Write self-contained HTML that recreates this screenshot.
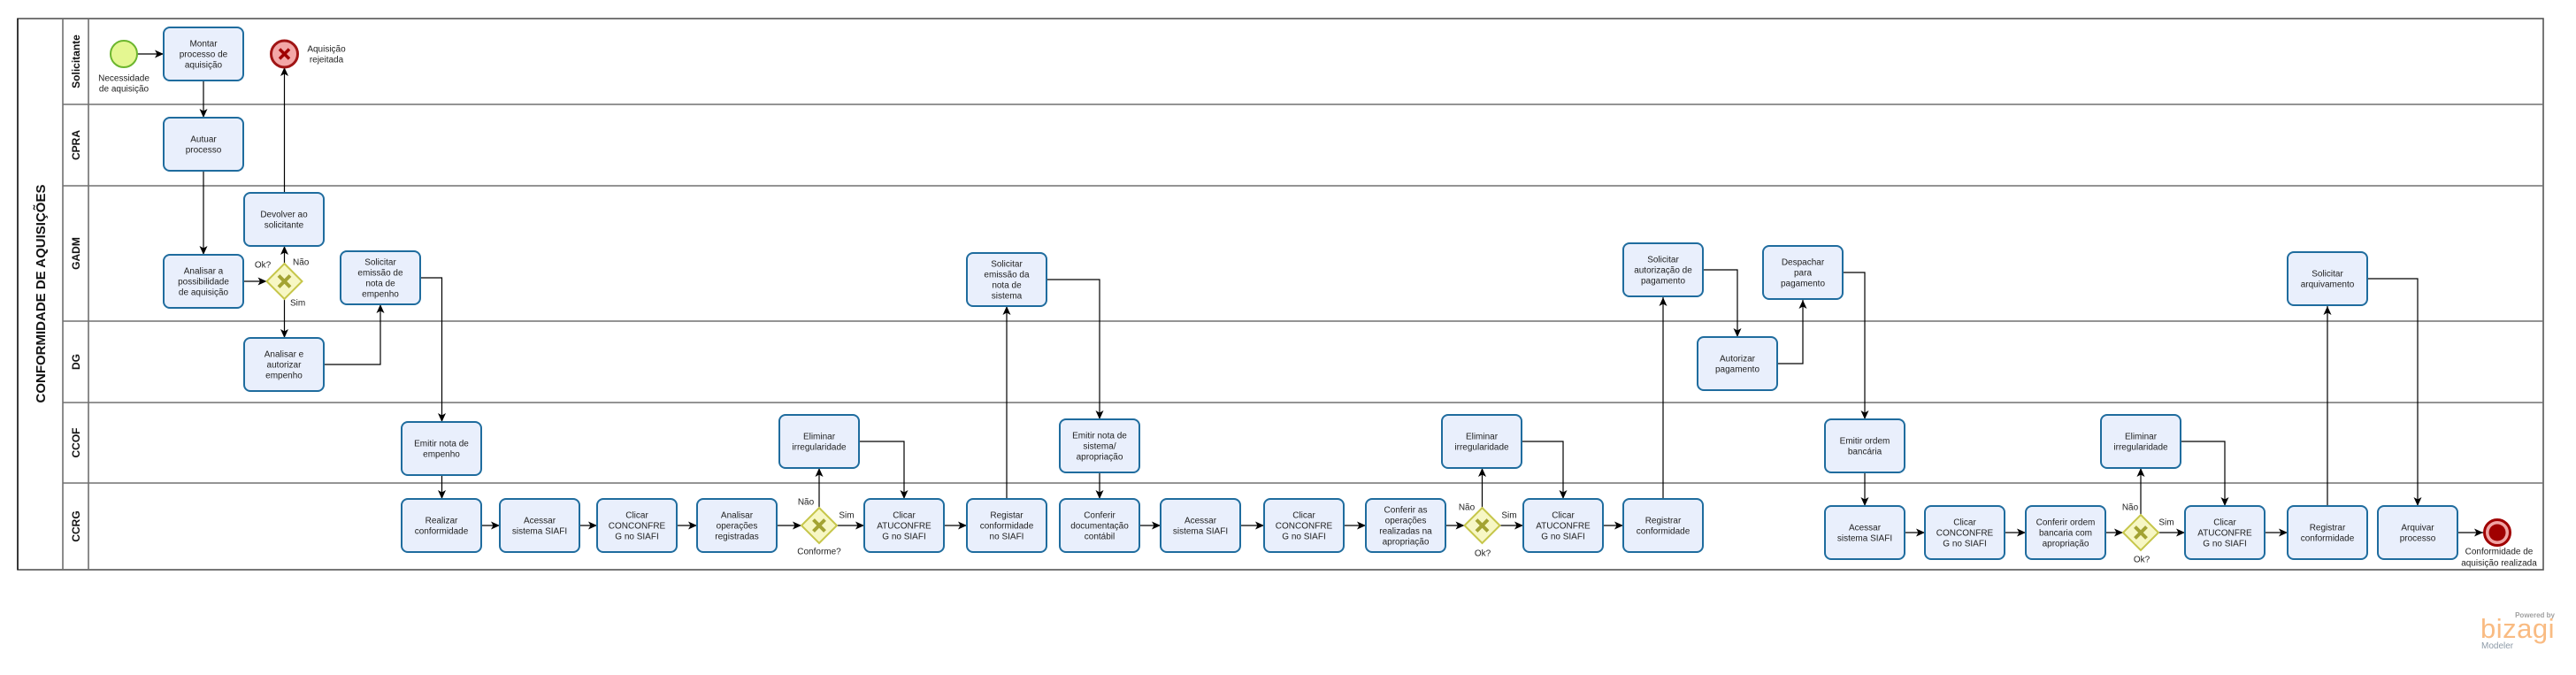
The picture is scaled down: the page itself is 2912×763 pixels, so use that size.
<!DOCTYPE html>
<html><head><meta charset="utf-8"><style>
html,body{margin:0;padding:0;background:#fff;}
svg{display:block;}
text{font-family:"Liberation Sans",Arial,sans-serif;}
.t{font-size:10px;fill:#222;text-anchor:middle;}
.l{font-size:10px;fill:#222;}
.task{fill:#e9effc;stroke:#1f6c9e;stroke-width:2;}
.c{fill:none;stroke:#000;stroke-width:1.2;marker-end:url(#ar);}
.lane{stroke:#707070;stroke-width:1.6;fill:none;}
.lh{font-size:12px;font-weight:bold;fill:#111;text-anchor:middle;}
.gw{fill:#f7f7c4;stroke:#c6c64a;stroke-width:2;}
.gx{stroke:#a3a333;stroke-width:4;}
</style></head><body>
<svg width="2912" height="763" viewBox="0 0 2912 763" xmlns="http://www.w3.org/2000/svg">
<defs>
<marker id="ar" markerUnits="userSpaceOnUse" markerWidth="11" markerHeight="10" refX="10" refY="4.5" orient="auto">
<path d="M0,0 L10,4.5 L0,9 L2.5,4.5 Z" fill="#000"/>
</marker>
</defs>
<rect x="0" y="0" width="2912" height="763" fill="#fff"/>

<!-- Pool -->
<rect x="20" y="21" width="2855" height="623" fill="none" stroke="#555" stroke-width="1.6"/>
<line x1="20" y1="21" x2="20" y2="644" stroke="#111" stroke-width="1.4"/>
<line x1="71" y1="21" x2="71" y2="644" class="lane"/>
<line x1="100" y1="21" x2="100" y2="644" class="lane"/>
<line x1="71" y1="118" x2="2875" y2="118" class="lane"/>
<line x1="71" y1="210" x2="2875" y2="210" class="lane"/>
<line x1="71" y1="363" x2="2875" y2="363" class="lane"/>
<line x1="71" y1="455" x2="2875" y2="455" class="lane"/>
<line x1="71" y1="546" x2="2875" y2="546" class="lane"/>

<text transform="translate(51,332) rotate(-90)" style="font-size:15px;font-weight:bold;fill:#111;text-anchor:middle;">CONFORMIDADE DE AQUISIÇÕES</text>
<text class="lh" transform="translate(90,69.5) rotate(-90)">Solicitante</text>
<text class="lh" transform="translate(90,164) rotate(-90)">CPRA</text>
<text class="lh" transform="translate(90,286.5) rotate(-90)">GADM</text>
<text class="lh" transform="translate(90,409) rotate(-90)">DG</text>
<text class="lh" transform="translate(90,500.5) rotate(-90)">CCOF</text>
<text class="lh" transform="translate(90,595) rotate(-90)">CCRG</text>

<!-- Connectors -->
<path class="c" d="M155,61 H185"/>
<path class="c" d="M230,91 V133"/>
<path class="c" d="M230,193 V288"/>
<path class="c" d="M275,318 H301.5"/>
<path class="c" d="M321.5,298 V278"/>
<path class="c" d="M321.5,218 V76"/>
<path class="c" d="M321.5,338 V382"/>
<path class="c" d="M366,412 H430 V344"/>
<path class="c" d="M475,314 H499.5 V477"/>
<path class="c" d="M499.5,537 V564"/>
<path class="c" d="M544,594 H565"/>
<path class="c" d="M655,594 H675"/>
<path class="c" d="M765,594 H788"/>
<path class="c" d="M878,594 H906"/>
<path class="c" d="M926,574 V529"/>
<path class="c" d="M971,499 H1022 V564"/>
<path class="c" d="M946,594 H977"/>
<path class="c" d="M1067,594 H1093"/>
<path class="c" d="M1138,564 V346"/>
<path class="c" d="M1183,316 H1243 V474"/>
<path class="c" d="M1243,534 V564"/>
<path class="c" d="M1288,594 H1312"/>
<path class="c" d="M1402,594 H1429"/>
<path class="c" d="M1519,594 H1544"/>
<path class="c" d="M1634,594 H1655.5"/>
<path class="c" d="M1675.5,574 V529"/>
<path class="c" d="M1720,499 H1767 V564"/>
<path class="c" d="M1695.5,594 H1722"/>
<path class="c" d="M1812,594 H1835"/>
<path class="c" d="M1880,564 V336"/>
<path class="c" d="M1925,305 H1964 V381"/>
<path class="c" d="M2009,411 H2038 V339"/>
<path class="c" d="M2083,308 H2108 V474"/>
<path class="c" d="M2108,534 V572"/>
<path class="c" d="M2153,602 H2176"/>
<path class="c" d="M2266,602 H2290"/>
<path class="c" d="M2380,602 H2400"/>
<path class="c" d="M2420,582 V529"/>
<path class="c" d="M2465,499 H2515 V572"/>
<path class="c" d="M2440,602 H2470"/>
<path class="c" d="M2560,602 H2586"/>
<path class="c" d="M2631,572 V346"/>
<path class="c" d="M2676,315 H2733 V572"/>
<path class="c" d="M2778,602 H2807"/>

<!-- Events -->
<circle cx="140" cy="61" r="15" fill="#e4f791" stroke="#6cb62e" stroke-width="2"/>
<text class="t" x="140" y="91.5">Necessidade</text>
<text class="t" x="140" y="103.5">de aquisição</text>

<circle cx="321.5" cy="61" r="15" fill="#f3a7a7" stroke="#a01515" stroke-width="3"/>
<path d="M316,55.5 L327,66.5 M327,55.5 L316,66.5" stroke="#a00000" stroke-width="3.5"/>
<text class="t" x="369" y="58.5">Aquisição</text>
<text class="t" x="369" y="70.5">rejeitada</text>

<circle cx="2823" cy="602" r="14.5" fill="#f0a4a4" stroke="#a00000" stroke-width="3"/>
<circle cx="2823" cy="602" r="9.5" fill="#a00000"/>
<text class="t" x="2825" y="626.5">Conformidade de</text>
<text class="t" x="2825" y="639.5">aquisição realizada</text>

<!-- Gateways -->
<g>
<polygon class="gw" points="321.5,298 341.5,318 321.5,338 301.5,318"/>
<path class="gx" d="M315,311.5 L328,324.5 M328,311.5 L315,324.5"/>
<text class="t" x="297" y="302.5">Ok?</text>
<text class="l" x="331" y="299.5">Não</text>
<text class="l" x="328" y="345.5">Sim</text>
</g>
<g>
<polygon class="gw" points="926,574 946,594 926,614 906,594"/>
<path class="gx" d="M919.5,587.5 L932.5,600.5 M932.5,587.5 L919.5,600.5"/>
<text class="t" x="926" y="626.5">Conforme?</text>
<text class="t" x="911" y="570.5">Não</text>
<text class="t" x="957" y="585.5">Sim</text>
</g>
<g>
<polygon class="gw" points="1675.5,574 1695.5,594 1675.5,614 1655.5,594"/>
<path class="gx" d="M1669,587.5 L1682,600.5 M1682,587.5 L1669,600.5"/>
<text class="t" x="1676" y="628.5">Ok?</text>
<text class="t" x="1658" y="576.5">Não</text>
<text class="t" x="1706" y="585.5">Sim</text>
</g>
<g>
<polygon class="gw" points="2420,582 2440,602 2420,622 2400,602"/>
<path class="gx" d="M2413.5,595.5 L2426.5,608.5 M2426.5,595.5 L2413.5,608.5"/>
<text class="t" x="2421" y="635.5">Ok?</text>
<text class="t" x="2408" y="576.5">Não</text>
<text class="t" x="2449" y="593.5">Sim</text>
</g>

<!-- Tasks -->
<g>
<rect class="task" x="185" y="31" width="90" height="60" rx="7"/>
<text class="t" x="230" y="52.5">Montar<tspan x="230" dy="12">processo de</tspan><tspan x="230" dy="12">aquisição</tspan></text>

<rect class="task" x="185" y="133" width="90" height="60" rx="7"/>
<text class="t" x="230" y="160.5">Autuar<tspan x="230" dy="12">processo</tspan></text>

<rect class="task" x="185" y="288" width="90" height="60" rx="7"/>
<text class="t" x="230" y="309.5">Analisar a<tspan x="230" dy="12">possibilidade</tspan><tspan x="230" dy="12">de aquisição</tspan></text>

<rect class="task" x="276" y="218" width="90" height="60" rx="7"/>
<text class="t" x="321" y="245.5">Devolver ao<tspan x="321" dy="12">solicitante</tspan></text>

<rect class="task" x="276" y="382" width="90" height="60" rx="7"/>
<text class="t" x="321" y="403.5">Analisar e<tspan x="321" dy="12">autorizar</tspan><tspan x="321" dy="12">empenho</tspan></text>

<rect class="task" x="385" y="284" width="90" height="60" rx="7"/>
<text class="t" x="430" y="299.5">Solicitar<tspan x="430" dy="12">emissão de</tspan><tspan x="430" dy="12">nota de</tspan><tspan x="430" dy="12">empenho</tspan></text>

<rect class="task" x="454" y="477" width="90" height="60" rx="7"/>
<text class="t" x="499" y="504.5">Emitir nota de<tspan x="499" dy="12">empenho</tspan></text>

<rect class="task" x="454" y="564" width="90" height="60" rx="7"/>
<text class="t" x="499" y="591.5">Realizar<tspan x="499" dy="12">conformidade</tspan></text>

<rect class="task" x="565" y="564" width="90" height="60" rx="7"/>
<text class="t" x="610" y="591.5">Acessar<tspan x="610" dy="12">sistema SIAFI</tspan></text>

<rect class="task" x="675" y="564" width="90" height="60" rx="7"/>
<text class="t" x="720" y="585.5">Clicar<tspan x="720" dy="12">CONCONFRE</tspan><tspan x="720" dy="12">G no SIAFI</tspan></text>

<rect class="task" x="788" y="564" width="90" height="60" rx="7"/>
<text class="t" x="833" y="585.5">Analisar<tspan x="833" dy="12">operações</tspan><tspan x="833" dy="12">registradas</tspan></text>

<rect class="task" x="881" y="469" width="90" height="60" rx="7"/>
<text class="t" x="926" y="496.5">Eliminar<tspan x="926" dy="12">irregularidade</tspan></text>

<rect class="task" x="977" y="564" width="90" height="60" rx="7"/>
<text class="t" x="1022" y="585.5">Clicar<tspan x="1022" dy="12">ATUCONFRE</tspan><tspan x="1022" dy="12">G no SIAFI</tspan></text>

<rect class="task" x="1093" y="564" width="90" height="60" rx="7"/>
<text class="t" x="1138" y="585.5">Registar<tspan x="1138" dy="12">conformidade</tspan><tspan x="1138" dy="12">no SIAFI</tspan></text>

<rect class="task" x="1093" y="286" width="90" height="60" rx="7"/>
<text class="t" x="1138" y="301.5">Solicitar<tspan x="1138" dy="12">emissão da</tspan><tspan x="1138" dy="12">nota de</tspan><tspan x="1138" dy="12">sistema</tspan></text>

<rect class="task" x="1198" y="474" width="90" height="60" rx="7"/>
<text class="t" x="1243" y="495.5">Emitir nota de<tspan x="1243" dy="12">sistema/</tspan><tspan x="1243" dy="12">apropriação</tspan></text>

<rect class="task" x="1198" y="564" width="90" height="60" rx="7"/>
<text class="t" x="1243" y="585.5">Conferir<tspan x="1243" dy="12">documentação</tspan><tspan x="1243" dy="12">contábil</tspan></text>

<rect class="task" x="1312" y="564" width="90" height="60" rx="7"/>
<text class="t" x="1357" y="591.5">Acessar<tspan x="1357" dy="12">sistema SIAFI</tspan></text>

<rect class="task" x="1429" y="564" width="90" height="60" rx="7"/>
<text class="t" x="1474" y="585.5">Clicar<tspan x="1474" dy="12">CONCONFRE</tspan><tspan x="1474" dy="12">G no SIAFI</tspan></text>

<rect class="task" x="1544" y="564" width="90" height="60" rx="7"/>
<text class="t" x="1589" y="579.5">Conferir as<tspan x="1589" dy="12">operações</tspan><tspan x="1589" dy="12">realizadas na</tspan><tspan x="1589" dy="12">apropriação</tspan></text>

<rect class="task" x="1630" y="469" width="90" height="60" rx="7"/>
<text class="t" x="1675" y="496.5">Eliminar<tspan x="1675" dy="12">irregularidade</tspan></text>

<rect class="task" x="1722" y="564" width="90" height="60" rx="7"/>
<text class="t" x="1767" y="585.5">Clicar<tspan x="1767" dy="12">ATUCONFRE</tspan><tspan x="1767" dy="12">G no SIAFI</tspan></text>

<rect class="task" x="1835" y="564" width="90" height="60" rx="7"/>
<text class="t" x="1880" y="591.5">Registrar<tspan x="1880" dy="12">conformidade</tspan></text>

<rect class="task" x="1835" y="275" width="90" height="60" rx="7"/>
<text class="t" x="1880" y="296.5">Solicitar<tspan x="1880" dy="12">autorização de</tspan><tspan x="1880" dy="12">pagamento</tspan></text>

<rect class="task" x="1919" y="381" width="90" height="60" rx="7"/>
<text class="t" x="1964" y="408.5">Autorizar<tspan x="1964" dy="12">pagamento</tspan></text>

<rect class="task" x="1993" y="278" width="90" height="60" rx="7"/>
<text class="t" x="2038" y="299.5">Despachar<tspan x="2038" dy="12">para</tspan><tspan x="2038" dy="12">pagamento</tspan></text>

<rect class="task" x="2063" y="474" width="90" height="60" rx="7"/>
<text class="t" x="2108" y="501.5">Emitir ordem<tspan x="2108" dy="12">bancária</tspan></text>

<rect class="task" x="2063" y="572" width="90" height="60" rx="7"/>
<text class="t" x="2108" y="599.5">Acessar<tspan x="2108" dy="12">sistema SIAFI</tspan></text>

<rect class="task" x="2176" y="572" width="90" height="60" rx="7"/>
<text class="t" x="2221" y="593.5">Clicar<tspan x="2221" dy="12">CONCONFRE</tspan><tspan x="2221" dy="12">G no SIAFI</tspan></text>

<rect class="task" x="2290" y="572" width="90" height="60" rx="7"/>
<text class="t" x="2335" y="593.5">Conferir ordem<tspan x="2335" dy="12">bancaria com</tspan><tspan x="2335" dy="12">apropriação</tspan></text>

<rect class="task" x="2375" y="469" width="90" height="60" rx="7"/>
<text class="t" x="2420" y="496.5">Eliminar<tspan x="2420" dy="12">irregularidade</tspan></text>

<rect class="task" x="2470" y="572" width="90" height="60" rx="7"/>
<text class="t" x="2515" y="593.5">Clicar<tspan x="2515" dy="12">ATUCONFRE</tspan><tspan x="2515" dy="12">G no SIAFI</tspan></text>

<rect class="task" x="2586" y="572" width="90" height="60" rx="7"/>
<text class="t" x="2631" y="599.5">Registrar<tspan x="2631" dy="12">conformidade</tspan></text>

<rect class="task" x="2586" y="285" width="90" height="60" rx="7"/>
<text class="t" x="2631" y="312.5">Solicitar<tspan x="2631" dy="12">arquivamento</tspan></text>

<rect class="task" x="2688" y="572" width="90" height="60" rx="7"/>
<text class="t" x="2733" y="599.5">Arquivar<tspan x="2733" dy="12">processo</tspan></text>
</g>

<!-- Logo -->
<text x="2888" y="698" style="font-size:8px;font-weight:bold;fill:#a0a0a0;text-anchor:end;">Powered by</text>
<text x="2804" y="721" style="font-size:31px;fill:#f9bb82;letter-spacing:0.5px;">bizagi</text>
<text x="2805" y="733" style="font-size:10px;fill:#8e9ba8;">Modeler</text>
</svg>
</body></html>
